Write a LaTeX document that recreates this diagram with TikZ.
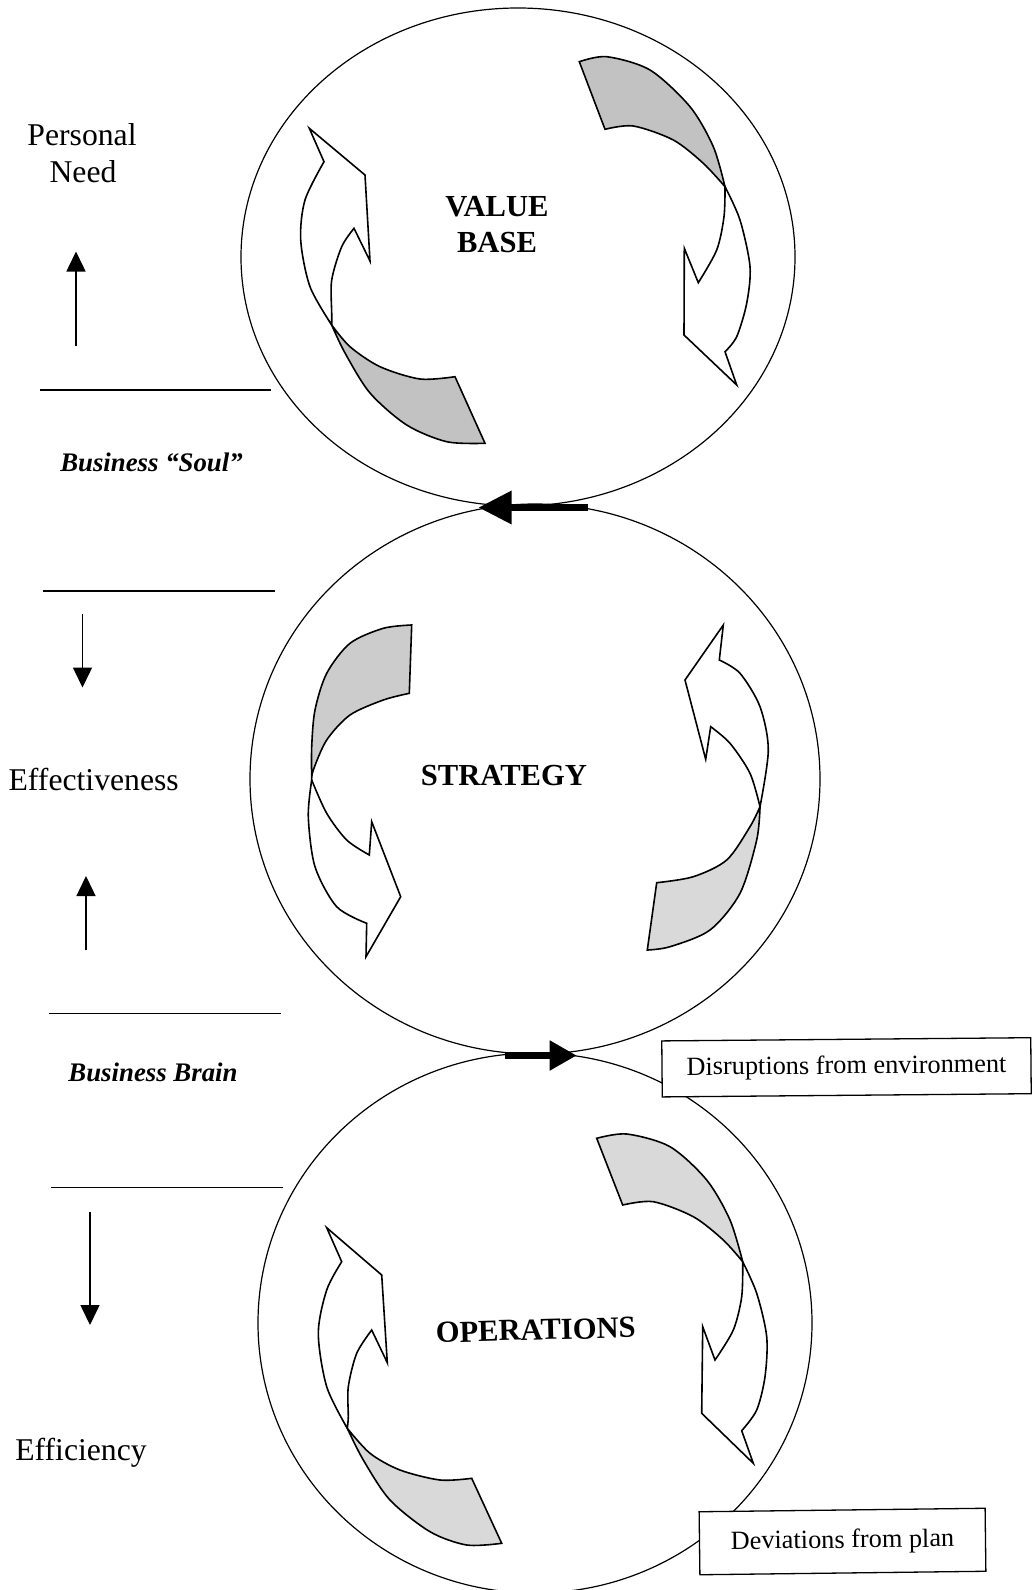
\documentclass[tikz,border=0pt]{standalone}
\usepackage{fontspec}
\setmainfont{Liberation Serif}
\usetikzlibrary{arrows.meta,shapes.geometric}

\definecolor{backdark}{gray}{0.76}
\definecolor{backmid}{gray}{0.80}
\definecolor{backlight}{gray}{0.85}

\begin{document}
\begin{tikzpicture}[x=0.5pt,y=-0.5pt,
  ring/.style={draw, ellipse, line width=0.6pt, inner sep=0pt},
  front/.style={draw, fill=white, line width=0.8pt, line join=miter},
  back/.style={draw, fill=#1, line width=0.8pt, line join=miter},
  lbl/.style={font=\fontsize{15.85}{19}\selectfont, inner sep=0pt, anchor=base},
  core/.style={font=\fontsize{15.3}{18.4}\selectfont\bfseries, inner sep=0pt, anchor=base},
  zone/.style={font=\fontsize{13.4}{16}\selectfont\bfseries\itshape, inner sep=0pt, anchor=base},
  note/.style={draw, fill=white, line width=0.65pt, font=\fontsize{13.15}{16}\selectfont, inner sep=0pt},
  rule/.style={line width=0.55pt},
  trend/.style={line width=0.75pt, -{Triangle[length=10pt,width=9.5pt]}},
  link/.style={line width=3.9pt, -{Triangle[length=#1]}},
]
\useasboundingbox (0,0) rectangle (1033,1590);

% ---------- the three rings ----------
\node[ring, minimum width=277pt, minimum height=249pt] (vb) at (518,257) {};
\node[ring, minimum width=285pt, minimum height=275pt] (st) at (535,779) {};
\node[ring, minimum width=277pt, minimum height=270pt] (op) at (535,1323) {};

% ---------- ring labels ----------
\node[core] (vbA) at (497,216) {VALUE};
\node[core] (vbB) at (497,252.7) {BASE};
\node[core] (stl) at (504,785) {STRATEGY};
\node[core, rotate=1.5] (opl) at (536,1340) {OPERATIONS};

% ---------- twisted ribbon arrows: value base ----------
\path[front] plot[smooth] coordinates {(331.7,325) (310,286.7) (300.7,240) (305,200) (324,161.7)}
  -- (309.3,128.3) -- (365,175) -- (370,261) -- (354,228.3)
  -- plot[smooth] coordinates {(354,228.3) (341.7,246.7) (331.7,280) (331.7,313) (331.7,325)} -- cycle;
\path[back=backdark] plot[smooth] coordinates {(331.7,325) (345,353) (370,393) (406.7,425) (446.7,441.7) (485,443.3)}
  -- (455,376.7)
  -- plot[smooth] coordinates {(455,376.7) (420,379) (380,366.7) (350,346.7) (331.7,325)} -- cycle;

\path[back=backdark] plot[smooth] coordinates {(579.3,61.7) (606.7,56.7) (650,70) (690,106.7) (713.3,146.7) (725,186.7)}
  -- plot[smooth] coordinates {(725,186.7) (703.3,163.3) (673.3,140) (633.3,126) (605,129.3)} -- cycle;
\path[front] plot[smooth] coordinates {(725,186.7) (740,220) (750,266.7) (746.7,303.3) (736.7,336.7) (725,351.7)}
  -- (736.7,385) -- (684,335) -- (684.3,248.3) -- (698.3,282.7)
  -- plot[smooth] coordinates {(698.3,282.7) (716.7,250) (724,216.7) (725,186.7)} -- cycle;

% ---------- twisted ribbon arrows: strategy ----------
\path[back=backmid] plot[smooth] coordinates {(411.7,625) (383.3,628.3) (350,643.3) (326.7,673.3) (315,710) (311.7,746.7) (311.7,780)}
  -- plot[smooth] coordinates {(311.7,780) (313.3,770) (326.7,740) (350,715) (383.3,700) (409.3,693.3)} -- cycle;
\path[front] plot[smooth] coordinates {(311.7,780) (308.3,816.7) (315,866.7) (336.7,906.7) (366.7,923.3)}
  -- (366,956.7) -- (400.7,896.7) -- (371.7,821.7) -- (369.3,855)
  -- plot[smooth] coordinates {(369.3,855) (346.7,840) (326.7,813.3) (311.7,780)} -- cycle;

\path[front] (723.3,625) -- (719.3,660)
  -- plot[smooth] coordinates {(719.3,660) (740,673.3) (760,706.7) (768.3,750) (760,806.7)}
  -- plot[smooth] coordinates {(760,806.7) (750,773.3) (730,743.3) (710.7,726.7)}
  -- (705.7,759.3) -- (685,680) -- cycle;
\path[back=backlight] plot[smooth] coordinates {(760,806.7) (756.7,840) (740,893.3) (710,930) (670,946.7) (647.3,950)}
  -- (656.7,882.7)
  -- plot[smooth] coordinates {(656.7,882.7) (693.3,876.7) (726.7,860) (750,826.7) (760,806.7)} -- cycle;

% ---------- twisted ribbon arrows: operations ----------
\path[front] plot[smooth] coordinates {(347.3,1428.3) (326.7,1386.7) (318.3,1333.3) (326.7,1290) (341.7,1261.7)}
  -- (326.7,1227.7) -- (381.7,1275) -- (387.3,1362.7) -- (371.7,1330)
  -- plot[smooth] coordinates {(371.7,1330) (356.7,1353.3) (348.3,1386.7) (348.3,1416.7) (347.3,1428.3)} -- cycle;
\path[back=backlight] plot[smooth] coordinates {(347.3,1428.3) (363.3,1460) (390,1500) (430,1531.7) (466.7,1545) (501.7,1543.3)}
  -- (471.7,1478.3)
  -- plot[smooth] coordinates {(471.7,1478.3) (440,1480) (400,1470) (370,1453.3) (347.3,1428.3)} -- cycle;

\path[back=backlight] plot[smooth] coordinates {(596.7,1138.3) (626.7,1134) (670,1146.7) (706.7,1180) (730,1220) (742.7,1261.7)}
  -- plot[smooth] coordinates {(742.7,1261.7) (723.3,1240) (693.3,1216.7) (653.3,1201.7) (622.7,1205)} -- cycle;
\path[front] plot[smooth] coordinates {(742.7,1261.7) (756.7,1293.3) (766.7,1336.7) (765,1376.7) (756.7,1410) (741.7,1430.7)}
  -- (753.3,1463.3) -- (701.7,1413.3) -- (702.7,1326.7) -- (715,1360)
  -- plot[smooth] coordinates {(715,1360) (733.3,1330) (741.7,1296.7) (742.7,1261.7)} -- cycle;

% ---------- links between the rings ----------
\coordinate (up1s) at (588,507.5);
\coordinate (up1e) at (478.3,507.5);
\draw[link={16.7pt 0 0, width=15.8pt}] (up1s) -- (up1e);
\coordinate (dn1s) at (505,1055.5);
\coordinate (dn1e) at (576.7,1055.5);
\draw[link={13.5pt 0 0, width=14.2pt}] (dn1s) -- (dn1e);

% ---------- side notes ----------
\node[note, minimum width=184.5pt, minimum height=28pt, rotate=0.5] (dis) at (846.5,1067.3) {Disruptions from environment};
\node[note, minimum width=143pt, minimum height=31.5pt, rotate=0.7] (dev) at (842.5,1541.5) {Deviations from plan};

% ---------- left scale ----------
\node[lbl] (pnA) at (82,145) {Personal};
\node[lbl] (pnB) at (83,182) {Need};
\node[zone] (soul) at (151.5,471) {Business “Soul”};
\node[lbl] (eff) at (93.7,790.5) {Effectiveness};
\node[zone] (brain) at (153,1081) {Business Brain};
\node[lbl] (efc) at (81,1460) {Efficiency};

\draw[rule] (40,390) -- (270.5,390);
\draw[rule] (43.3,591) -- (275,591);
\draw[rule] (49.3,1013.4) -- (280.7,1013.4);
\draw[rule] (51,1187.5) -- (282.7,1187.5);

\coordinate (t1s) at (76,345.5);
\coordinate (t1e) at (76,251.5);
\draw[trend] (t1s) -- (t1e);
\coordinate (t2s) at (82.5,614);
\coordinate (t2e) at (82.5,687.5);
\draw[trend] (t2s) -- (t2e);
\coordinate (t3s) at (86,950);
\coordinate (t3e) at (86,876);
\draw[trend] (t3s) -- (t3e);
\coordinate (t4s) at (90,1211.5);
\coordinate (t4e) at (90,1325);
\draw[trend] (t4s) -- (t4e);
\end{tikzpicture}
\end{document}
